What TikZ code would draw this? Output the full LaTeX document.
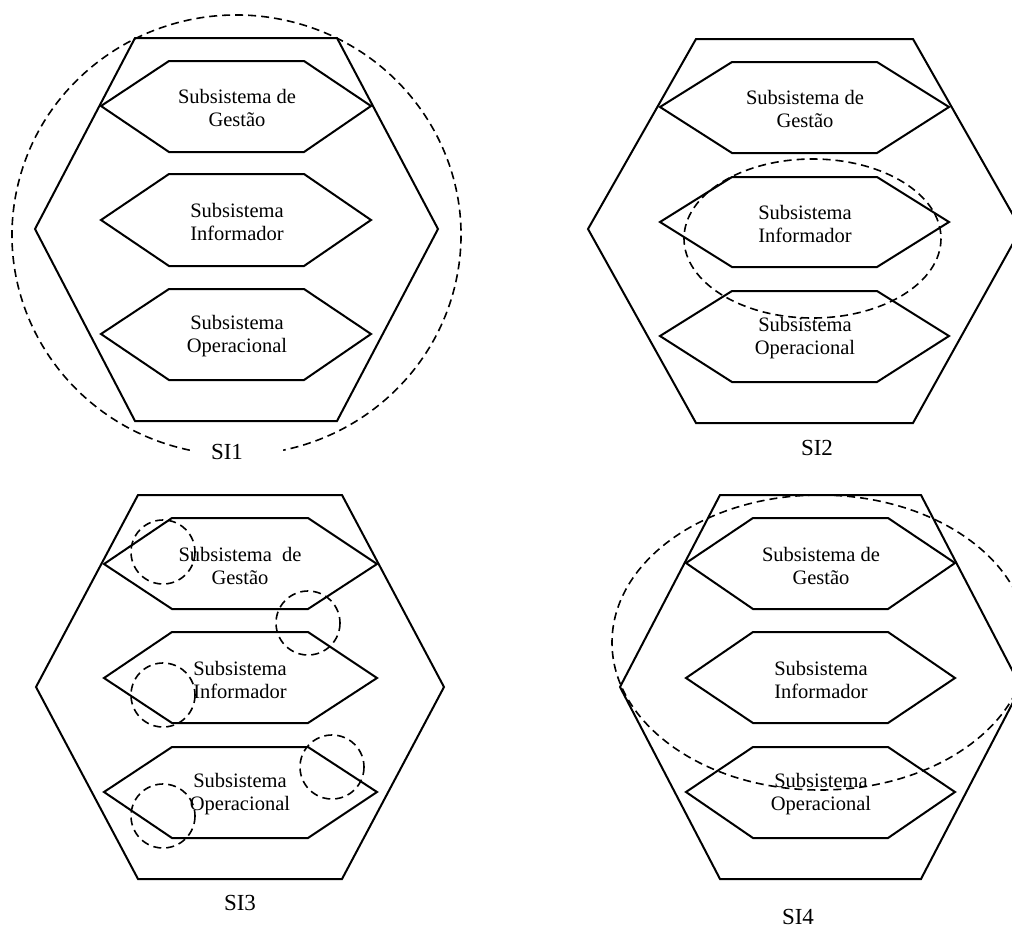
\documentclass[tikz,border=0pt]{standalone}
\usepackage{fontspec}
\setmainfont{Liberation Serif}
\usetikzlibrary{calc}

% hexagon through left vertex, flat-left x, flat-right x, right vertex, top y, mid y, bottom y
\newcommand{\hexshape}[7]{%
  \draw[hexline] (#1,#6) -- (#2,#5) -- (#3,#5) -- (#4,#6) -- (#3,#7) -- (#2,#7) -- cycle;}

\begin{document}
\begin{tikzpicture}[x=1pt,y=-1pt,
  hexline/.style={line width=2pt, line join=miter},
  dashring/.style={line width=1.6pt, dash pattern=on 8pt off 5pt},
  subtext/.style={align=center, font=\fontsize{20.5}{23}\selectfont, inner sep=0pt},
  tag/.style={font=\fontsize{23}{26}\selectfont, inner sep=0pt}]
\useasboundingbox (0,0) rectangle (1012,940);
\clip (0,0) rectangle (1012,940);

% ---------- SI1 ----------
\hexshape{35}{135}{337}{438}{38}{229}{421}
\hexshape{101}{169}{304}{371}{61}{106}{152}
\hexshape{101}{169}{304}{371}{174}{220}{266}
\hexshape{101}{169}{304}{371}{289}{334}{380}
\node[subtext] (g1) at (237,108) {Subsistema de\\Gestão};
\node[subtext] (i1) at (237,222) {Subsistema\\Informador};
\node[subtext] (o1) at (237,336) {Subsistema\\Operacional};
\coordinate (c1) at (236.5,235);
\draw[dashring] (c1) ++(102:224.5 and 220) arc[start angle=102, end angle=438, x radius=224.5, y radius=220];
\node[tag] (si1) at (227,452) {SI1};

% ---------- SI2 ----------
\hexshape{588}{696}{913}{1021}{39}{229}{423}
\hexshape{660}{732}{877}{949}{62}{107}{153}
\hexshape{660}{732}{877}{949}{177}{222}{267}
\hexshape{660}{732}{877}{949}{291}{336}{382}
\node[subtext] (g2) at (805,109) {Subsistema de\\Gestão};
\node[subtext] (i2) at (805,224) {Subsistema\\Informador};
\node[subtext] (o2) at (805,338) {Subsistema\\Operacional};
\draw[dashring] (812.5,238.5) ellipse[x radius=128.5, y radius=79.5];
\node[tag] (si2) at (817,448) {SI2};

% ---------- SI3 ----------
\hexshape{36}{138}{342}{444}{495}{687}{879}
\hexshape{104}{172}{308}{377}{518}{564}{609}
\hexshape{104}{172}{308}{377}{632}{678}{723}
\hexshape{104}{172}{308}{377}{747}{792}{838}
\node[subtext] (g3) at (240,566) {Subsistema~ de\\Gestão};
\node[subtext] (i3) at (240,680) {Subsistema\\Informador};
\node[subtext] (o3) at (240,794) {Subsistema\\Operacional};
\foreach \cx/\cy in {163/552, 308/623, 163/695, 332/767, 163/816}
  \draw[dashring] (\cx,\cy) circle[radius=32];
\node[tag] (si3) at (240,903) {SI3};

% ---------- SI4 ----------
\hexshape{620}{720}{921}{1021}{495}{687}{879}
\hexshape{686}{753}{888}{955}{518}{563}{609}
\hexshape{686}{753}{888}{955}{632}{678}{723}
\hexshape{686}{753}{888}{955}{747}{792}{838}
\node[subtext] (g4) at (821,566) {Subsistema de\\Gestão};
\node[subtext] (i4) at (821,680) {Subsistema\\Informador};
\node[subtext] (o4) at (821,794) {Subsistema\\Operacional};
\draw[dashring] (820,642.5) ellipse[x radius=208, y radius=147.5];
\node[tag] (si4) at (798,917) {SI4};
\end{tikzpicture}
\end{document}
